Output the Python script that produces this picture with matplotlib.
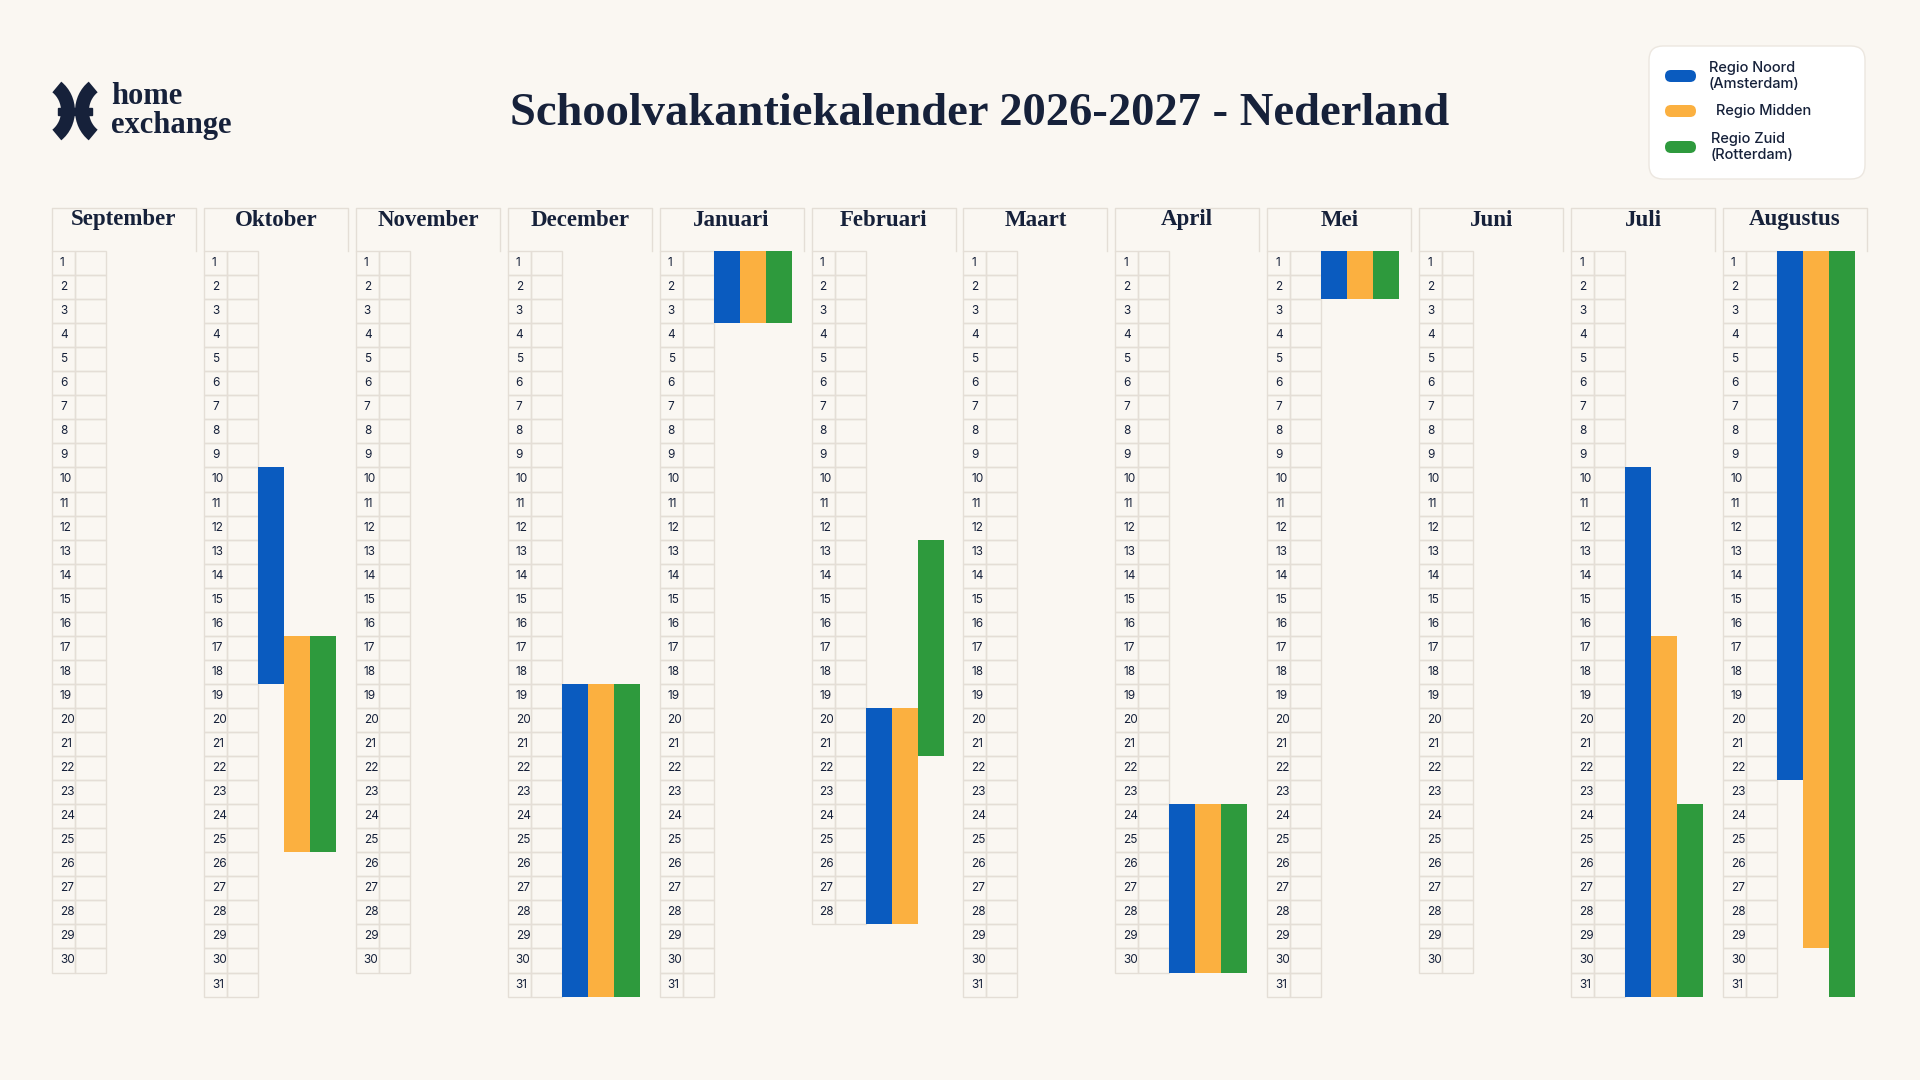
import matplotlib
matplotlib.use("Agg")
import matplotlib.pyplot as plt
from matplotlib.patches import Rectangle, FancyBboxPatch, Arc

months = ["September", "Oktober", "November", "December", "Januari", "Februari",
          "Maart", "April", "Mei", "Juni", "Juli", "Augustus"]
days_in_month = [30, 31, 30, 31, 31, 28, 31, 30, 31, 30, 31, 31]
regions = ["Regio Noord\n(Amsterdam)", "Regio Midden", "Regio Zuid\n(Rotterdam)"]
colors = ["#0a5bbf", "#fbb040", "#2e9a3d"]
# vacations: (month index, region index, first day, last day)
vacations = [
    (1, 0, 10, 18), (1, 1, 17, 25), (1, 2, 17, 25),
    (3, 0, 19, 31), (3, 1, 19, 31), (3, 2, 19, 31),
    (4, 0, 1, 3), (4, 1, 1, 3), (4, 2, 1, 3),
    (5, 0, 20, 28), (5, 1, 20, 28), (5, 2, 13, 21),
    (7, 0, 24, 30), (7, 1, 24, 30), (7, 2, 24, 30),
    (8, 0, 1, 2), (8, 1, 1, 2), (8, 2, 1, 2),
    (10, 0, 10, 31), (10, 1, 17, 31), (10, 2, 24, 31),
    (11, 0, 1, 22), (11, 1, 1, 29), (11, 2, 1, 31),
]

W, H = 1920, 1080
bg = "#faf7f2"
ink = "#16213a"
line = "#e4ded6"
fig = plt.figure(figsize=(19.2, 10.8), dpi=100, facecolor=bg)
ax = fig.add_axes([0, 0, 1, 1])
ax.set_xlim(0, W); ax.set_ylim(H, 0); ax.axis("off")

x0, step, colw = 52, 151.9, 144
top_rows, rowh = 251, 24.05
num_w, cell2_w = 23, 31
bar_off, bar_w = 54, 26

ax.text(980, 114, "Schoolvakantiekalender 2026-2027 - Nederland", ha="center", va="center",
        fontsize=33.5, fontweight="bold", family="Liberation Serif", color=ink)

# logo
ax.add_patch(Arc((40, 111), 56, 60, theta1=-55, theta2=55, lw=10, color=ink))
ax.add_patch(Arc((110, 111), 56, 60, theta1=125, theta2=235, lw=10, color=ink))
ax.add_patch(Rectangle((58, 108), 34, 7, color=ink))
ax.text(111, 96, "home", ha="left", va="center", fontsize=22, fontweight="bold",
        family="Liberation Serif", color=ink)
ax.text(111, 126, "exchange", ha="left", va="center", fontsize=22, fontweight="bold",
        family="Liberation Serif", color=ink)

for m, (name, nd) in enumerate(zip(months, days_in_month)):
    x = x0 + m * step
    ax.plot([x, x, x + colw, x + colw], [top_rows, 208, 208, top_rows], color=line, lw=1)
    ax.text(x + colw / 2, 220, name, ha="center", va="center", fontsize=16.5,
            fontweight="bold", family="Liberation Serif", color=ink)
    for d in range(1, nd + 1):
        y = top_rows + (d - 1) * rowh
        ax.add_patch(Rectangle((x, y), num_w, rowh, fill=False, ec=line, lw=1))
        ax.add_patch(Rectangle((x + num_w, y), cell2_w, rowh, fill=False, ec=line, lw=1))
        ax.text(x + 8, y + rowh / 2, str(d), ha="left", va="center", fontsize=8.5,
                family="Inter", color=ink)

for m, r, d1, d2 in vacations:
    x = x0 + m * step + bar_off + r * bar_w
    y = top_rows + (d1 - 1) * rowh
    ax.add_patch(Rectangle((x, y), bar_w, (d2 - d1 + 1) * rowh, color=colors[r], lw=0))

# legend
ax.add_patch(FancyBboxPatch((1649, 46), 216, 133, boxstyle="round,pad=0,rounding_size=14",
                            fc="white", ec="#ece7e0", lw=1))
ly = [76, 111, 147]
lx = [1709, 1716, 1711]
for i in range(3):
    ax.add_patch(FancyBboxPatch((1665, ly[i] - 6), 31, 12, boxstyle="round,pad=0,rounding_size=6",
                                fc=colors[i], ec="none"))
    ax.text(lx[i], ly[i], regions[i], ha="left", va="center", fontsize=10.5,
            family="Inter", fontweight="medium", color=ink, linespacing=1.2)

fig.savefig("out.png", dpi=100, facecolor=bg)
